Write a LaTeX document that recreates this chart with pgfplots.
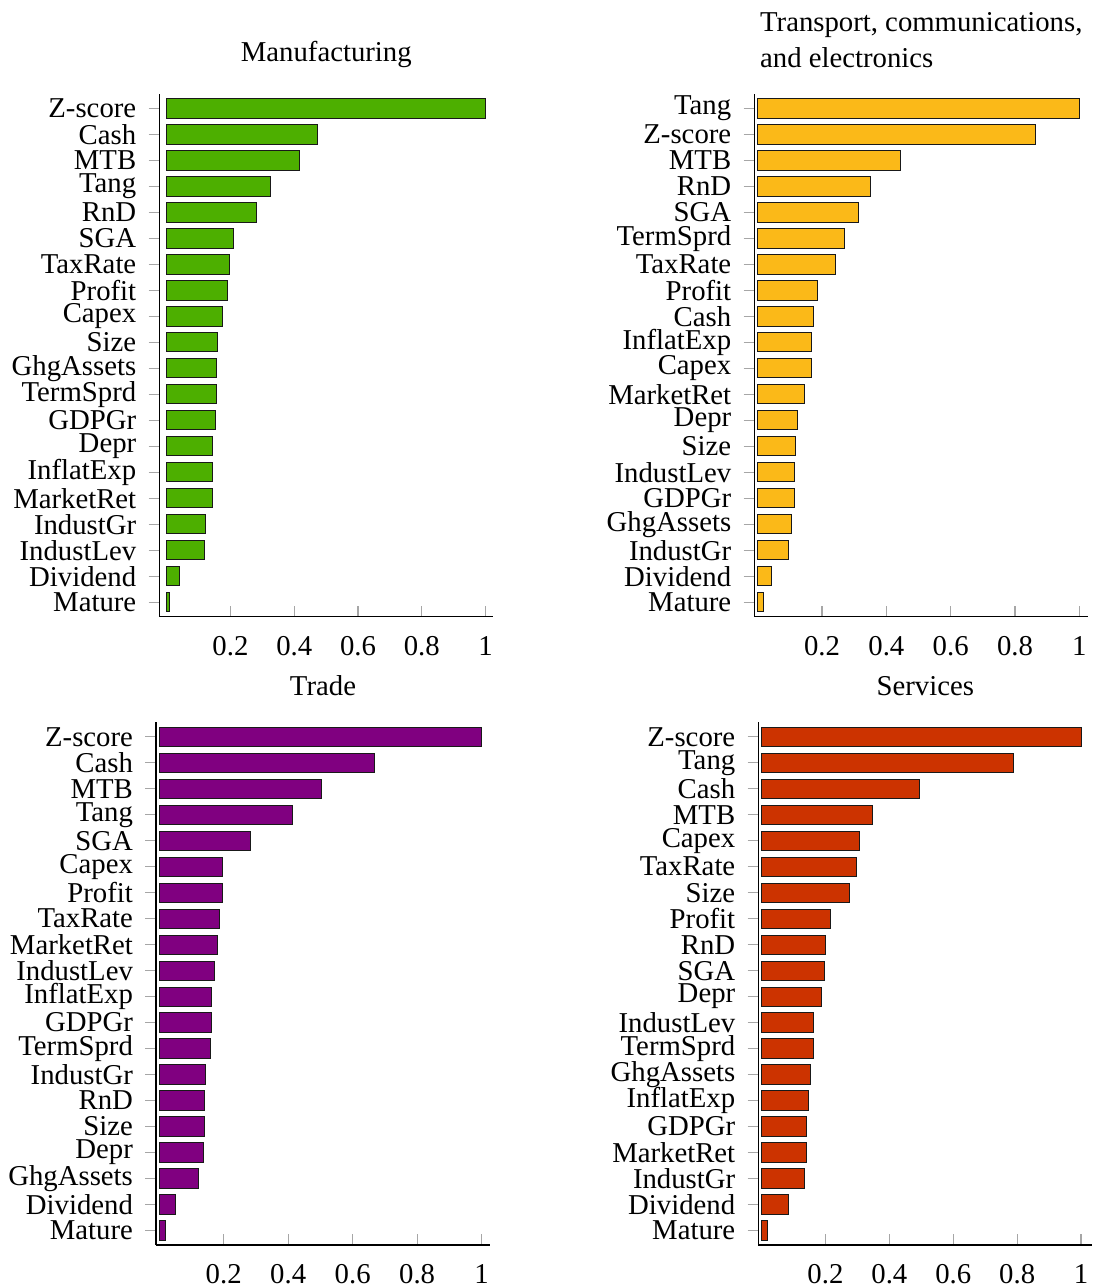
\documentclass[border=0pt]{standalone}
\usepackage{fontspec}
\setmainfont{Liberation Serif}
\usepackage{pgfplots}
\pgfplotsset{compat=1.18}
\definecolor{cgreen}{RGB}{77,175,0}
\definecolor{corange}{RGB}{251,185,24}
\definecolor{cpurple}{RGB}{128,0,128}
\definecolor{cred}{RGB}{204,51,0}
\pgfplotsset{
  mybar/.style={
    scale only axis, width=133.6pt, height=209.1pt,
    anchor=south west,
    axis lines=left, axis line style={-, black, line width=0.5pt},
    xbar, bar width=0.74,
    ymin=-0.56, ymax=19.56,
    ytick={0,...,19},
    xtick={0.2,0.4,0.6,0.8,1},
    xticklabels={0.2,0.4,0.6,0.8,1},
    tick align=outside, major tick length=4.3pt,
    major tick style={gray!70, line width=0.5pt},
    xtick style={yshift=4.3pt},
    tick label style={font=\fontsize{11.5}{13.8}\selectfont},
    yticklabel style={xshift=-1.4pt},
    title style={at={(0.5,1)}, anchor=south, yshift=1pt,
      font=\fontsize{11.5}{14.4}\selectfont, align=left},
  },
}
\begin{document}
\begin{tikzpicture}
% Manufacturing
\begin{axis}[mybar, at={(63.72pt,268.1pt)},
  xmin=-0.023, xmax=1.024,
  title={Manufacturing},
  yticklabels={Mature,Dividend,IndustLev,IndustGr,MarketRet,InflatExp,Depr,GDPGr,TermSprd,GhgAssets,Size,Capex,Profit,TaxRate,SGA,RnD,Tang,MTB,Cash,Z-score}]
\addplot[fill=cgreen, draw=black!90, line width=0.4pt] coordinates {
(0.0075,0) (0.041,1) (0.118,2) (0.123,3) (0.144,4) (0.145,5) (0.145,6) (0.153,7) (0.156,8) (0.157,9)
(0.159,10) (0.176,11) (0.192,12) (0.198,13) (0.211,14) (0.282,15) (0.327,16) (0.418,17) (0.473,18) (1.0,19)};
\end{axis}
% Transport
\begin{axis}[mybar, at={(301.72pt,268.1pt)},
  xmin=-0.0106, xmax=1.028,
  title={Transport, communications,\\and electronics},
  yticklabels={Mature,Dividend,IndustGr,GhgAssets,GDPGr,IndustLev,Size,Depr,MarketRet,Capex,InflatExp,Cash,Profit,TaxRate,TermSprd,SGA,RnD,MTB,Z-score,Tang}]
\addplot[fill=corange, draw=black!90, line width=0.4pt] coordinates {
(0.018,0) (0.042,1) (0.095,2) (0.105,3) (0.113,4) (0.114,5) (0.119,6) (0.124,7) (0.144,8) (0.166,9)
(0.166,10) (0.174,11) (0.186,12) (0.242,13) (0.269,14) (0.313,15) (0.352,16) (0.443,17) (0.863,18) (1.0,19)};
\end{axis}
% Trade
\begin{axis}[mybar, at={(62.4pt,16.8pt)},
  xmin=-0.01, xmax=1.026,
  title={Trade},
  yticklabels={Mature,Dividend,GhgAssets,Depr,Size,RnD,IndustGr,TermSprd,GDPGr,InflatExp,IndustLev,MarketRet,TaxRate,Profit,Capex,SGA,Tang,MTB,Cash,Z-score}]
\addplot[fill=cpurple, draw=black!90, line width=0.4pt] coordinates {
(0.019,0) (0.049,1) (0.122,2) (0.136,3) (0.139,4) (0.141,5) (0.143,6) (0.158,7) (0.161,8) (0.163,9)
(0.172,10) (0.182,11) (0.188,12) (0.195,13) (0.195,14) (0.284,15) (0.412,16) (0.504,17) (0.669,18) (1.0,19)};
\end{axis}
% Services
\begin{axis}[mybar, at={(303.32pt,16.8pt)},
  xmin=-0.01, xmax=1.035,
  title={Services},
  yticklabels={Mature,Dividend,IndustGr,MarketRet,GDPGr,InflatExp,GhgAssets,TermSprd,IndustLev,Depr,SGA,RnD,Profit,Size,TaxRate,Capex,MTB,Cash,Tang,Z-score}]
\addplot[fill=cred, draw=black!90, line width=0.4pt] coordinates {
(0.018,0) (0.084,1) (0.136,2) (0.141,3) (0.141,4) (0.148,5) (0.153,6) (0.162,7) (0.164,8) (0.188,9)
(0.196,10) (0.199,11) (0.216,12) (0.274,13) (0.297,14) (0.308,15) (0.346,16) (0.495,17) (0.79,18) (1.0,19)};
\end{axis}
\pgfresetboundingbox
\useasboundingbox (0,0) rectangle (437.6pt,514.8pt);
\end{tikzpicture}
\end{document}
